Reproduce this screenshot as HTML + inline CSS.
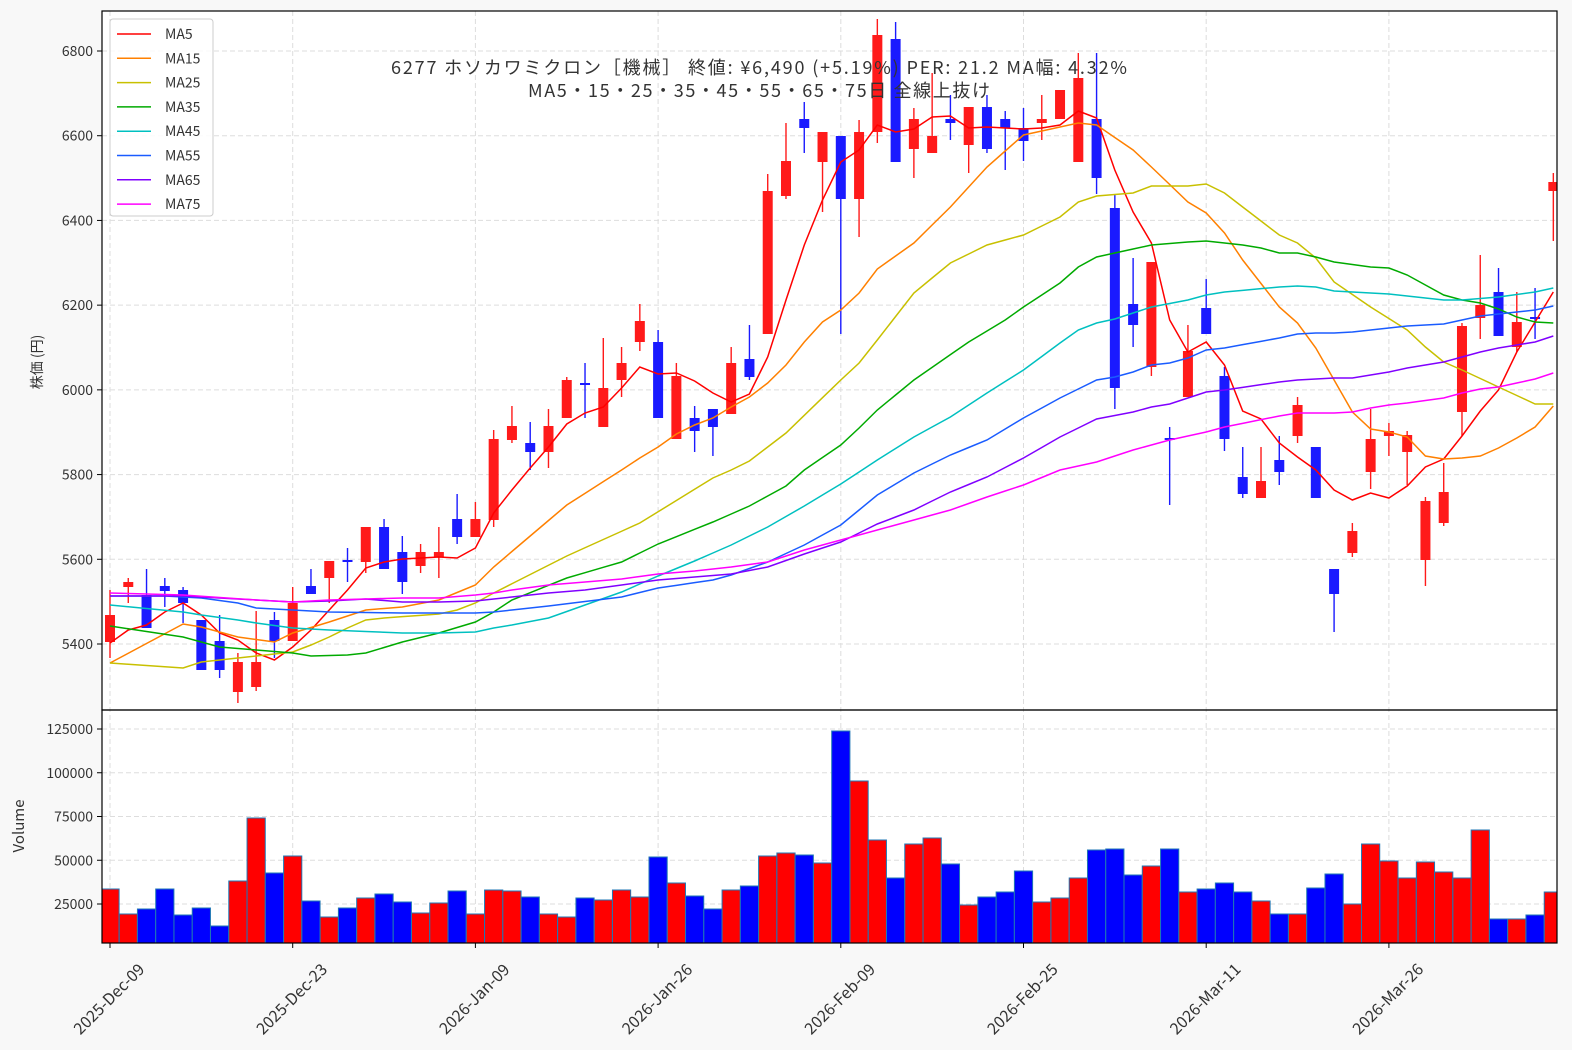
<!DOCTYPE html>
<html><head><meta charset="utf-8">
<style>
html,body{margin:0;padding:0;background:#f8f8f8;}
svg{display:block;font-family:"Noto Sans CJK JP","Liberation Sans",sans-serif;}
</style></head>
<body>
<svg id="s" width="1572" height="1050" xmlns="http://www.w3.org/2000/svg"></svg>
<script>
const S=document.getElementById('s');
let h='';
const X=i=>110+18.27*i;
const L=102,R=1557,T1=11,B1=710,B2=943;
h+=`<rect x="${L}" y="${T1}" width="${R-L}" height="${B2-T1}" fill="#fff"/>`;
const dates=['2025-Dec-09','2025-Dec-23','2026-Jan-09','2026-Jan-26','2026-Feb-09','2026-Feb-25','2026-Mar-11','2026-Mar-26'];
for(let k=0;k<8;k++){const x=X(k*10);
 h+=`<line x1="${x}" y1="${T1}" x2="${x}" y2="${B2}" stroke="#ddd" stroke-dasharray="5,3"/>`;
 h+=`<line x1="${x}" y1="${B2}" x2="${x}" y2="${B2+5}" stroke="#000"/>`;
 h+=`<text transform="translate(${x-1},${999}) rotate(-45)" text-anchor="middle" dy="0.35em" font-size="16" fill="#333">${dates[k]}</text>`;}
const PY=p=>51+(6800-p)*0.42357;
for(let p=5400;p<=6800;p+=200){const y=PY(p);
 h+=`<line x1="${L}" y1="${y}" x2="${R}" y2="${y}" stroke="#ddd" stroke-dasharray="5,3"/>`;
 h+=`<line x1="${L-5}" y1="${y}" x2="${L}" y2="${y}" stroke="#000"/>`;
 h+=`<text x="${L-9}" y="${y+5}" text-anchor="end" font-size="14" fill="#333">${p}</text>`;}
const VY=v=>904+(25000-v)*0.00175;
for(let v=25000;v<=125000;v+=25000){const y=VY(v);
 h+=`<line x1="${L}" y1="${y}" x2="${R}" y2="${y}" stroke="#ddd" stroke-dasharray="5,3"/>`;
 h+=`<line x1="${L-5}" y1="${y}" x2="${L}" y2="${y}" stroke="#000"/>`;
 h+=`<text x="${L-9}" y="${y+5}" text-anchor="end" font-size="14" fill="#333">${v}</text>`;}
const vt=[889,914,909,889,915,908,926,881,818,873,856,901,917,908,898,894,902,913,903,891,914,890,891,897,914,917,898,900,890,897,857,883,896,909,890,886,856,853,855,863,731,781,840,878,844,838,864,905,897,892,871,902,898,878,850,849,875,866,849,892,889,883,892,901,914,914,888,874,904,844,861,878,862,872,878,830,919,919,915,892];
const C=[['r',615,642,590,658],['r',582,587,578,603],['b',595,628,569,628],['b',586,591,578,607],['b',590,603,587,623],['b',620,670,620,670],['b',641,670,615,678],['r',662,692,653,703],['r',662,687,611,691],['b',620,641,612,658],
['r',603,641,587,641],['b',586,594,569,594],['r',561,578,561,603],['b',560,562,548,582],['r',527,562,527,573],['b',527,569,519,569],['b',552,582,536,594],['r',552,566,544,573],['r',552,557,527,578],['b',519,537,494,544],
['r',519,537,502,537],['r',439,520,430,527],['r',426,440,406,443],['b',443,452,422,470],['r',426,452,409,468],['r',380,418,377,418],['b',383,385,363,418],['r',388,427,338,427],['r',363,380,347,397],['r',321,342,304,351],
['b',342,418,330,418],['r',376,439,363,439],['b',418,431,406,452],['b',409,427,409,456],['r',363,414,347,414],['b',359,377,325,380],['r',191,334,174,334],['r',161,196,123,199],['b',119,128,102,153],['r',132,162,132,212],
['b',136,199,136,334],['r',132,199,120,237],['r',35,132,19,143],['b',39,162,22,162],['r',119,149,108,178],['r',136,153,73,153],['b',119,123,95,140],['r',107,145,107,173],['b',107,149,95,153],['b',119,128,111,170],
['b',128,141,108,161],['r',119,123,95,140],['r',90,119,90,119],['r',78,162,53,162],['b',119,178,53,194],['b',208,388,195,409],['b',304,325,258,347],['r',262,367,262,376],['b',438,440,427,505],['r',351,397,325,397],
['b',308,334,279,334],['b',376,439,367,451],['b',477,494,447,498],['r',481,498,447,498],['b',460,472,436,485],['r',405,436,397,443],['b',447,498,447,498],['b',569,594,569,632],['r',531,553,523,557],['r',439,472,409,489],
['r',431,436,423,456],['r',435,452,431,485],['r',501,560,497,586],['r',492,523,463,526],['r',326,412,323,436],['r',305,318,255,339],['b',292,336,268,336],['r',322,347,292,352],['b',317,319,288,339],['r',182,191,173,241]];
h+=`<defs><clipPath id="cv"><rect x="${L}" y="${B1}" width="${R-L}" height="${B2-B1}"/></clipPath><clipPath id="cp"><rect x="${L}" y="${T1}" width="${R-L}" height="${B1-T1}"/></clipPath></defs>`;
h+='<g clip-path="url(#cv)">';
for(let i=0;i<80;i++){const c=C[i][0]=='r'?'#ff0000':'#0000ff';
 h+=`<rect x="${X(i)-9.1}" y="${vt[i]}" width="18.2" height="${B2+5-vt[i]}" fill="${c}" stroke="#1f77b4" stroke-width="1"/>`;}
h+='</g><g clip-path="url(#cp)">';
for(let i=0;i<80;i++){const [cc,a,b,w1,w2]=C[i];const c=cc=='r'?'#ff1a1a':'#1a1aff';const x=X(i);
 h+=`<line x1="${x}" y1="${w1}" x2="${x}" y2="${w2}" stroke="${c}" stroke-width="1.4"/>`;
 h+=`<rect x="${x-5}" y="${a}" width="10" height="${Math.max(1.5,b-a)}" fill="${c}"/>`;}
function interp(kp){const o=[];for(let j=0;j<kp.length-1;j++){const [i0,y0]=kp[j],[i1,y1]=kp[j+1];for(let i=i0;i<i1;i++)o.push([i,y0+(y1-y0)*(i-i0)/(i1-i0)]);}o.push(kp[kp.length-1]);return o;}
const ma5=[643,630,625,612,603,615,633,640,653,660,647,630,610,590,568,562,559,558,557,558,548,513,490,468,447,424,413,407,388,367,374,373,381,393,402,394,357,300,245,200,162,150,125,132,129,117,116,128,127,128,129,128,125,111,118,170,212,243,320,352,342,365,411,419,443,457,470,490,500,493,498,486,467,459,436,411,390,352,322,292].map((y,i)=>[i,y]);
const MAs=[
['#ff0000',ma5],
['#ff8000',interp([[0,663],[4,624],[5,627],[7,637],[9,642],[10,633],[12,622],[14,610],[16,607],[18,600],[20,585],[21,567],[25,505],[28,470],[29,458],[30,447],[31,434],[32,425],[33,418],[34,407],[35,397],[36,383],[37,365],[38,342],[39,322],[40,310],[41,293],[42,269],[44,243],[46,207],[48,167],[50,135],[52,127],[53,123],[54,125],[56,150],[57,167],[59,202],[60,213],[61,233],[62,260],[64,307],[65,323],[66,348],[67,380],[68,412],[69,429],[70,432],[71,437],[72,456],[73,459],[74,458],[75,456],[76,448],[77,438],[78,427],[79,406]])],
['#c8c000',interp([[0,663],[4,668],[5,662],[7,658],[10,652],[11,645],[12,637],[13,628],[14,620],[15,618],[18,614],[19,610],[20,603],[21,593],[25,556],[29,523],[33,478],[34,470],[35,461],[37,433],[40,380],[41,363],[42,340],[44,293],[46,263],[48,245],[50,235],[52,217],[53,202],[54,196],[56,193],[57,186],[59,186],[60,184],[61,193],[62,207],[64,235],[65,243],[66,258],[67,282],[69,307],[71,330],[72,347],[73,362],[74,370],[76,387],[78,404],[79,404]])],
['#00aa00',interp([[0,626],[4,637],[6,647],[10,653],[11,656],[13,655],[14,653],[16,642],[18,633],[20,622],[21,612],[22,600],[25,578],[28,562],[30,544],[33,522],[35,506],[37,486],[38,470],[40,445],[41,428],[42,410],[44,380],[47,342],[49,320],[50,307],[52,283],[53,267],[54,257],[56,249],[57,245],[59,242],[60,241],[61,243],[62,245],[63,248],[64,253],[65,253],[66,257],[67,262],[69,267],[70,268],[71,275],[72,285],[73,295],[74,300],[75,303],[76,309],[77,317],[78,322],[79,323]])],
['#00c0c0',interp([[0,605],[4,612],[5,615],[7,620],[8,623],[10,628],[12,630],[16,633],[18,633],[20,632],[21,628],[22,625],[24,618],[26,605],[28,592],[30,576],[32,561],[34,545],[36,527],[38,506],[40,484],[41,472],[42,460],[44,437],[46,417],[48,393],[50,370],[52,343],[53,330],[54,323],[55,319],[56,313],[57,307],[59,300],[60,295],[61,292],[64,287],[65,286],[66,287],[67,291],[70,294],[71,296],[73,300],[74,300],[76,297],[78,292],[79,288]])],
['#1a5cff',interp([[0,596],[3,596],[5,598],[7,603],[8,608],[10,610],[12,612],[16,613],[20,613],[21,612],[24,606],[28,597],[30,588],[33,580],[34,575],[36,562],[38,545],[40,525],[41,510],[42,495],[44,473],[46,455],[48,440],[50,418],[52,398],[54,380],[55,377],[56,372],[57,365],[58,363],[59,358],[60,350],[61,348],[64,338],[65,334],[66,333],[67,333],[68,332],[69,330],[70,328],[71,326],[73,324],[74,320],[75,316],[76,314],[77,312],[78,310],[79,306]])],
['#8000ff',interp([[0,596],[4,596],[8,600],[10,602],[12,601],[14,599],[16,602],[18,602],[20,601],[21,599],[22,597],[24,593],[26,590],[28,585],[30,580],[32,577],[34,574],[36,567],[38,554],[40,542],[42,524],[44,510],[46,492],[48,477],[50,458],[52,437],[54,419],[56,412],[57,407],[58,404],[59,398],[60,392],[61,390],[64,382],[65,380],[67,378],[68,378],[69,375],[70,372],[71,368],[73,362],[74,357],[75,352],[76,348],[78,342],[79,336]])],
['#ff00ff',interp([[0,593],[4,595],[8,600],[10,602],[12,600],[14,599],[16,598],[18,598],[20,595],[21,593],[22,590],[24,585],[26,582],[28,579],[30,574],[32,571],[34,567],[36,562],[38,550],[40,540],[42,530],[44,520],[46,510],[48,497],[50,485],[52,470],[54,462],[56,450],[57,445],[58,440],[60,432],[61,427],[64,416],[65,413],[67,413],[68,412],[69,408],[70,405],[71,403],[73,398],[74,393],[75,389],[76,387],[78,379],[79,373]])]];
for(const [c,pts] of MAs){h+=`<polyline fill="none" stroke="${c}" stroke-width="1.5" points="${pts.map(p=>X(p[0]).toFixed(1)+','+p[1]).join(' ')}"/>`;}
h+='</g>';
h+=`<text x="391" y="74" textLength="736" lengthAdjust="spacing" font-size="18" fill="#333">6277  ホソカワミクロン［機械］  終値: ¥6,490 (+5.19%)  PER: 21.2  MA幅: 4.32%</text>`;
h+=`<text x="528" y="97" textLength="462" lengthAdjust="spacing" font-size="18" fill="#333">MA5・15・25・35・45・55・65・75日 全線上抜け</text>`;
h+=`<rect x="110" y="19" width="103" height="197" rx="3" fill="#fff" fill-opacity="0.85" stroke="#ccc"/>`;
const names=['MA5','MA15','MA25','MA35','MA45','MA55','MA65','MA75'];
for(let k=0;k<8;k++){const y=34+24.3*k;h+=`<line x1="117" y1="${y}" x2="151" y2="${y}" stroke="${MAs[k][0]}" stroke-width="1.5"/><text x="165" y="${y+5}" font-size="14" fill="#333">${names[k]}</text>`;}
h+=`<rect x="${L}" y="${T1}" width="${R-L}" height="${B1-T1}" fill="none" stroke="#000" stroke-width="1.2"/>`;
h+=`<rect x="${L}" y="${B1}" width="${R-L}" height="${B2-B1}" fill="none" stroke="#000" stroke-width="1.2"/>`;
h+=`<text transform="translate(42,362) rotate(-90)" text-anchor="middle" font-size="14" fill="#333">株価 (円)</text>`;
h+=`<text transform="translate(24,826) rotate(-90)" text-anchor="middle" font-size="15" fill="#333">Volume</text>`;
S.innerHTML=h;
</script>
</body></html>
